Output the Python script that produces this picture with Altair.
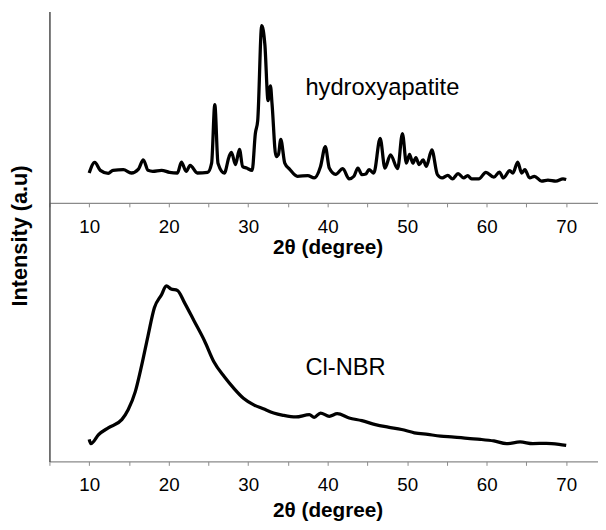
import altair as alt
import pandas as pd

# ---- data (intensity in arbitrary units) ----
hap_2theta = [10.0, 10.7, 11.4, 12.4, 13.0, 14.3, 15.3, 16.2, 16.8, 17.4, 18.0, 19.1, 20.1,
              21.1, 21.6, 22.2, 22.7, 23.6, 24.9, 25.4, 25.8, 26.2, 27.0, 27.6, 27.9, 28.4,
              28.9, 29.3, 29.8, 30.5, 30.9, 31.2, 31.7, 32.1, 32.5, 32.8, 33.0, 33.5, 33.8,
              34.1, 34.6, 35.2, 36.2, 37.5, 38.3, 39.1, 39.7, 40.2, 41.0, 41.9, 42.7, 43.3,
              43.8, 44.3, 44.8, 45.2, 45.8, 46.6, 47.2, 47.9, 48.8, 49.4, 49.9, 50.3, 50.7,
              51.1, 51.5, 52.0, 52.4, 53.1, 53.8, 54.4, 55.1, 55.7, 56.4, 57.1, 57.6, 58.1,
              59.0, 59.9, 60.9, 61.6, 62.1, 62.9, 63.3, 63.9, 64.4, 64.8, 65.4, 66.0, 66.9,
              67.7, 68.7, 69.6, 70.0]
hap_intensity = [30.3, 41.0, 33.0, 30.0, 33.0, 33.7, 30.3, 34.3, 43.7, 33.0, 32.0, 33.0, 31.0,
                 30.3, 41.3, 32.0, 38.0, 30.3, 31.0, 40.3, 99.7, 40.3, 30.3, 47.0, 51.3, 38.7,
                 54.3, 37.0, 35.3, 33.0, 70.3, 83.7, 179.7, 160.3, 103.7, 118.7, 100.3, 47.0, 49.0,
                 64.3, 40.3, 34.3, 27.0, 27.7, 25.3, 37.0, 57.0, 35.3, 29.0, 34.7, 24.3, 27.0,
                 35.3, 28.7, 29.3, 33.7, 30.3, 65.3, 35.3, 48.7, 34.7, 70.3, 40.3, 49.3, 40.3,
                 46.0, 38.7, 43.7, 37.0, 53.7, 28.7, 25.3, 28.0, 24.3, 29.7, 25.3, 27.7, 24.3,
                 24.3, 31.0, 26.0, 31.3, 25.3, 32.7, 30.3, 41.3, 30.3, 33.7, 25.3, 27.0, 22.0,
                 23.0, 22.0, 24.3, 23.7]

nbr_2theta = [10.0, 10.2, 11.2, 12.4, 14.1, 14.9, 15.8, 16.6, 17.4, 18.2, 19.1, 19.7, 20.3,
              21.1, 22.0, 23.2, 24.5, 25.7, 27.0, 28.2, 29.4, 30.7, 31.9, 33.2, 34.4, 36.0,
              37.7, 38.3, 39.1, 40.2, 41.2, 42.7, 44.3, 46.0, 47.6, 49.3, 50.9, 52.6, 54.2,
              55.9, 57.6, 59.2, 60.9, 62.5, 64.2, 65.8, 67.5, 69.1, 70.0]
nbr_intensity = [22.3, 18.0, 27.3, 34.0, 42.3, 52.3, 70.7, 97.3, 127.3, 155.7, 169.0, 178.0, 174.7,
                 173.3, 160.7, 142.3, 122.3, 100.7, 85.7, 74.0, 64.0, 57.3, 53.3, 49.0, 46.7, 45.0,
                 47.3, 44.7, 49.0, 45.7, 48.3, 44.0, 41.3, 37.3, 34.7, 32.3, 29.0, 27.3, 25.7,
                 24.7, 23.3, 22.3, 20.7, 18.0, 19.7, 18.0, 18.3, 17.3, 16.3]

label_names = ["hydroxyapatite", "Cl-NBR"]
label_2theta = [37.2, 37.2]
label_intensity = [109.0, 87.3]

x_ticks = [5, 10, 15, 20, 25, 30, 35, 40, 45, 50, 55, 60, 65, 70]
x_domain = [5, 74]
hap_y_domain = [-262, 194]
nbr_y_domain = [0, 456]

FONT = "Liberation Sans"
X_TITLE = "2θ (degree)"

hap = pd.DataFrame({"two_theta": hap_2theta, "intensity": hap_intensity})
nbr = pd.DataFrame({"two_theta": nbr_2theta, "intensity": nbr_intensity})
hap_lab = pd.DataFrame({"two_theta": [label_2theta[0]], "intensity": [label_intensity[0]],
                        "name": [label_names[0]]})
nbr_lab = pd.DataFrame({"two_theta": [label_2theta[1]], "intensity": [label_intensity[1]],
                        "name": [label_names[1]]})


def x_axis(offset, title_y):
    return alt.Axis(
        orient="bottom", offset=offset, values=x_ticks,
        labelExpr="datum.value % 10 === 0 ? datum.label : ''",
        grid=False, tickSize=4, tickColor="#8a8a8a", domainColor="#8a8a8a",
        domainWidth=1.2, labelFont=FONT, labelFontSize=19, labelColor="black",
        labelPadding=11, labelFlush=False, labelOverlap=False,
        title=X_TITLE, titleFont=FONT, titleFontSize=21, titleFontWeight="bold",
        titleColor="black", titleX=282, titleY=title_y, titleBaseline="alphabetic",
        titleAlign="center")


xs = alt.Scale(domain=x_domain, nice=False, zero=False)

hap_line = alt.Chart(hap).mark_line(color="black", strokeWidth=3.3, strokeJoin="round",
                                    interpolate="monotone").encode(
    x=alt.X("two_theta:Q", scale=xs, axis=x_axis(-262, 51)),
    y=alt.Y("intensity:Q", scale=alt.Scale(domain=hap_y_domain, nice=False, zero=False), axis=None),
)
hap_text = alt.Chart(hap_lab).mark_text(align="left", baseline="alphabetic", font=FONT,
                                        fontSize=24, color="black").encode(
    x="two_theta:Q", y="intensity:Q", text="name:N")

nbr_line = alt.Chart(nbr).mark_line(color="black", strokeWidth=3.3, strokeJoin="round",
                                    interpolate="monotone").encode(
    x=alt.X("two_theta:Q", scale=xs, axis=x_axis(0, 56)),
    y=alt.Y("intensity:Q", scale=alt.Scale(domain=nbr_y_domain, nice=False, zero=False),
            axis=alt.Axis(orient="left", ticks=False, labels=False, grid=False,
                          domainColor="#555555", domainWidth=1.6,
                          title="Intensity (a.u)", titleFont=FONT, titleFontSize=22,
                          titleFontWeight="bold", titleColor="black", titleAngle=270,
                          titleX=-23, titleY=227, titleBaseline="alphabetic",
                          titleAlign="center")),
)
nbr_text = alt.Chart(nbr_lab).mark_text(align="left", baseline="alphabetic", font=FONT,
                                        fontSize=24, color="black").encode(
    x="two_theta:Q", y="intensity:Q", text="name:N")

top = alt.layer(hap_line, hap_text)
bottom = alt.layer(nbr_line, nbr_text)

chart = alt.layer(top, bottom).resolve_scale(x="independent", y="independent").properties(
    width=556, height=456,
    autosize=alt.AutoSizeParams(type="none"),
    padding={"left": 42, "top": 0, "right": 0, "bottom": 66},
).configure_view(stroke=None)

chart.save("out.html", embed_options={"renderer": "svg", "actions": False})
